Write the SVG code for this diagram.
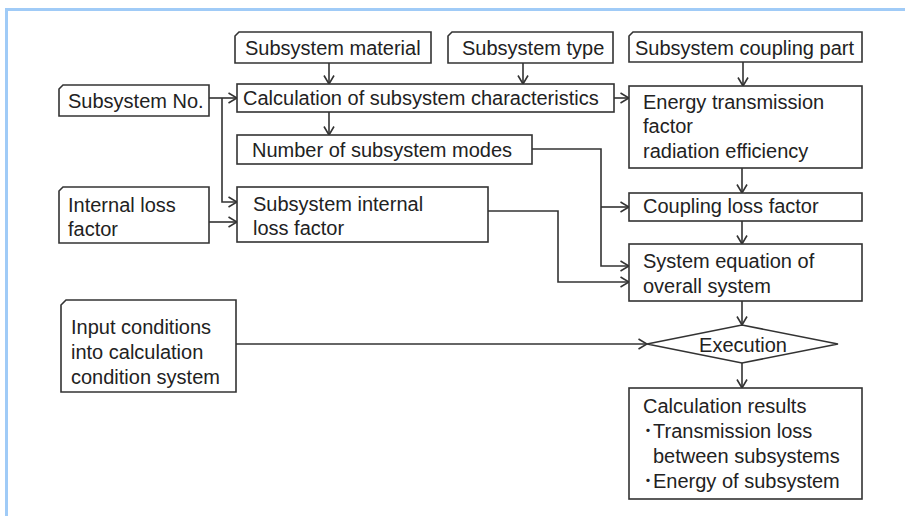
<svg xmlns="http://www.w3.org/2000/svg" width="905" height="516" viewBox="0 0 905 516">
<style>
.box{fill:#fff;stroke:#333;stroke-width:1.6}
.t{font-family:"Liberation Sans",Arial,"Noto Sans CJK JP",sans-serif;font-size:20px;fill:#222}
.c{fill:none;stroke:#333;stroke-width:1.6}
</style>
<defs>
<marker id="ah" viewBox="0 0 10 12" refX="9.5" refY="6" markerWidth="10" markerHeight="12" markerUnits="userSpaceOnUse" orient="auto">
<path d="M1,1 L9.5,6 L1,11" fill="none" stroke="#333" stroke-width="1.6"/>
</marker>
</defs>
<rect x="0" y="0" width="905" height="516" fill="#fff"/>
<rect x="6.5" y="9.5" width="1000" height="1000" fill="none" stroke="#a0cbf7" stroke-width="3"/>

<g id="connectors">
<path class="c" d="M329,63 V84" marker-end="url(#ah)"/>
<path class="c" d="M523,63 V84" marker-end="url(#ah)"/>
<path class="c" d="M743,62 V86" marker-end="url(#ah)"/>
<path class="c" d="M209,98 H237" marker-end="url(#ah)"/>
<path class="c" d="M222,98 V202 H237" marker-end="url(#ah)"/>
<path class="c" d="M614,98 H629" marker-end="url(#ah)"/>
<path class="c" d="M329,112 V135" marker-end="url(#ah)"/>
<path class="c" d="M532,149 H601 V266 H629" marker-end="url(#ah)"/>
<path class="c" d="M601,207 H629" marker-end="url(#ah)"/>
<path class="c" d="M209,222 H237" marker-end="url(#ah)"/>
<path class="c" d="M488,211 H558 V282 H629" marker-end="url(#ah)"/>
<path class="c" d="M742,168 V193" marker-end="url(#ah)"/>
<path class="c" d="M742,221 V244" marker-end="url(#ah)"/>
<path class="c" d="M742,301 V325" marker-end="url(#ah)"/>
<path class="c" d="M236,344 H647" marker-end="url(#ah)"/>
<path class="c" d="M742,363 V388" marker-end="url(#ah)"/>
</g>

<g id="subsystem-material">
<path class="box" d="M239,32 H431 V63 H235 V36 Z"/>
<text class="t" x="245" y="55">Subsystem material</text>
</g>
<g id="subsystem-type">
<path class="box" d="M452,32 H613 V63 H448 V36 Z"/>
<text class="t" x="462" y="55">Subsystem type</text>
</g>
<g id="subsystem-coupling-part">
<path class="box" d="M633,32 H862 V62 H629 V36 Z"/>
<text class="t" x="635" y="55">Subsystem coupling part</text>
</g>
<g id="subsystem-no">
<path class="box" d="M63,85 H209 V116 H59 V89 Z"/>
<text class="t" x="68" y="108">Subsystem No.</text>
</g>
<g id="calc-characteristics">
<rect class="box" x="237" y="84" width="377" height="28"/>
<text class="t" x="243" y="105">Calculation of subsystem characteristics</text>
</g>
<g id="energy-transmission">
<rect class="box" x="629" y="86" width="233" height="82"/>
<text class="t" x="643" y="109">Energy transmission</text>
<text class="t" x="643" y="133">factor</text>
<text class="t" x="643" y="158">radiation efficiency</text>
</g>
<g id="number-of-modes">
<rect class="box" x="237" y="135" width="295" height="29"/>
<text class="t" x="252" y="157">Number of subsystem modes</text>
</g>
<g id="internal-loss-factor">
<path class="box" d="M63,187 H209 V243 H59 V191 Z"/>
<text class="t" x="68" y="212">Internal loss</text>
<text class="t" x="68" y="236">factor</text>
</g>
<g id="subsystem-internal-loss">
<rect class="box" x="237" y="187" width="251" height="55"/>
<text class="t" x="253" y="211">Subsystem internal</text>
<text class="t" x="253" y="235">loss factor</text>
</g>
<g id="coupling-loss-factor">
<rect class="box" x="629" y="193" width="233" height="28"/>
<text class="t" x="643" y="213">Coupling loss factor</text>
</g>
<g id="system-equation">
<rect class="box" x="629" y="244" width="233" height="57"/>
<text class="t" x="643" y="268">System equation of</text>
<text class="t" x="643" y="293">overall system</text>
</g>
<g id="input-conditions">
<path class="box" d="M66,300 H236 V392 H61 V305 Z"/>
<text class="t" x="71" y="334">Input conditions</text>
<text class="t" x="71" y="359">into calculation</text>
<text class="t" x="71" y="384">condition system</text>
</g>
<g id="execution">
<path class="box" d="M647,344 L742,325 L838,344 L742,363 Z"/>
<text class="t" x="743" y="352" text-anchor="middle">Execution</text>
</g>
<g id="calculation-results">
<rect class="box" x="629" y="388" width="233" height="111"/>
<text class="t" x="643" y="413">Calculation results</text>
<text class="t" x="643" y="438"><tspan>･</tspan><tspan x="653">Transmission loss</tspan></text>
<text class="t" x="653" y="463">between subsystems</text>
<text class="t" x="643" y="488"><tspan>･</tspan><tspan x="653">Energy of subsystem</tspan></text>
</g>
</svg>
